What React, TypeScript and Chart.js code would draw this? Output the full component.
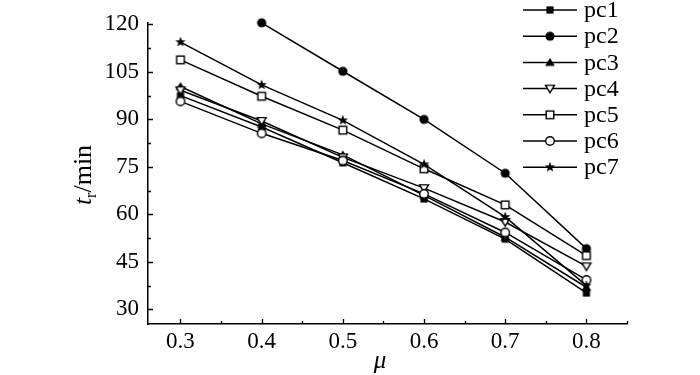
import React, { useEffect, useRef } from "react";
import { Chart, registerables } from "chart.js";
Chart.register(...registerables);

const muValues = [0.3, 0.4, 0.5, 0.6, 0.7, 0.8];
const seriesNames = ["pc1", "pc2", "pc3", "pc4", "pc5", "pc6", "pc7"];
const pc1 = [97.5, 87.6, 76.3, 64.9, 52.2, 35.2];
const pc2 = [null, 120.5, 105.2, 90, 73, 49.2];
const pc3 = [100.4, 88.6, 78.8, 66.0, 52.8, 37.0];
const pc4 = [99.2, 89.5, 78.0, 68.3, 57.6, 43.6];
const pc5 = [108.8, 97.3, 86.6, 74.4, 63.0, 47.0];
const pc6 = [95.7, 85.6, 77.0, 66.5, 54.3, 39.3];
const pc7 = [114.4, 100.9, 89.7, 75.8, 59.2, 37.5];
const yTickValues = [30, 45, 60, 75, 90, 105, 120];
const yMinorTicks = [37.5, 52.5, 67.5, 82.5, 97.5, 112.5];
const xTickValues = [0.3, 0.4, 0.5, 0.6, 0.7, 0.8];
const xMinorTicks = [0.35, 0.45, 0.55, 0.65, 0.75, 0.85];
const markerKinds = ["fsquare", "fcircle", "ftri", "odtri", "osquare", "ocircle", "fstar"];

const FONT = "'Liberation Serif', 'Times New Roman', serif";

function makeMarker(kind: string): HTMLCanvasElement {
  const s = 16;
  const c = document.createElement("canvas");
  c.width = s;
  c.height = s;
  const g = c.getContext("2d")!;
  const m = s / 2;
  g.fillStyle = "#000";
  g.strokeStyle = "#000";
  g.lineWidth = 1.4;
  switch (kind) {
    case "fsquare":
      g.fillRect(m - 3.6, m - 3.6, 7.2, 7.2);
      break;
    case "fcircle":
      g.beginPath();
      g.arc(m, m, 4.6, 0, Math.PI * 2);
      g.fill();
      break;
    case "ftri":
      g.beginPath();
      g.moveTo(m, m - 4.6);
      g.lineTo(m + 4.8, m + 3.6);
      g.lineTo(m - 4.8, m + 3.6);
      g.closePath();
      g.fill();
      break;
    case "odtri":
      g.beginPath();
      g.moveTo(m, m + 4.2);
      g.lineTo(m + 4.5, m - 3.4);
      g.lineTo(m - 4.5, m - 3.4);
      g.closePath();
      g.fillStyle = "#fff";
      g.fill();
      g.stroke();
      break;
    case "osquare":
      g.fillStyle = "#fff";
      g.fillRect(m - 3.8, m - 3.8, 7.6, 7.6);
      g.strokeRect(m - 3.8, m - 3.8, 7.6, 7.6);
      break;
    case "ocircle":
      g.beginPath();
      g.arc(m, m, 4.3, 0, Math.PI * 2);
      g.fillStyle = "#fff";
      g.fill();
      g.stroke();
      break;
    case "fstar": {
      g.beginPath();
      for (let k = 0; k < 10; k++) {
        const r = k % 2 === 0 ? 5.4 : 2.3;
        const a = -Math.PI / 2 + (k * Math.PI) / 5;
        const px = m + r * Math.cos(a);
        const py = m + r * Math.sin(a);
        if (k === 0) g.moveTo(px, py);
        else g.lineTo(px, py);
      }
      g.closePath();
      g.fill();
      break;
    }
  }
  return c;
}

export default function App() {
  const ref = useRef<HTMLCanvasElement>(null);
  useEffect(() => {
    if (!ref.current) return;
    const allSeries = [pc1, pc2, pc3, pc4, pc5, pc6, pc7];
    const markers = markerKinds.map(makeMarker);
    const datasets = allSeries.map((arr, i) => ({
      label: seriesNames[i],
      data: muValues
        .map((x, j) => ({ x, y: arr[j] as number | null }))
        .filter((p) => p.y !== null),
      borderColor: "#000",
      borderWidth: 1.5,
      pointStyle: markers[i] as any,
      pointRadius: 5,
      tension: 0,
      clip: false as any,
      order: 7 - i,
    }));

    const decor = {
      id: "decor",
      afterDraw(chart: any) {
        const ctx = chart.ctx as CanvasRenderingContext2D;
        const xs = chart.scales.x;
        const ys = chart.scales.y;
        const ca = chart.chartArea;
        ctx.save();
        ctx.strokeStyle = "#000";
        ctx.lineWidth = 1.3;
        ctx.beginPath();
        yTickValues.forEach((v) => {
          const y = Math.round(ys.getPixelForValue(v)) + 0.5;
          ctx.moveTo(ca.left, y);
          ctx.lineTo(ca.left + 5, y);
        });
        yMinorTicks.forEach((v) => {
          const y = Math.round(ys.getPixelForValue(v)) + 0.5;
          ctx.moveTo(ca.left, y);
          ctx.lineTo(ca.left + 3, y);
        });
        xTickValues.forEach((v) => {
          const x = Math.round(xs.getPixelForValue(v)) + 0.5;
          ctx.moveTo(x, ca.bottom);
          ctx.lineTo(x, ca.bottom - 5);
        });
        xMinorTicks.forEach((v) => {
          const x = Math.round(xs.getPixelForValue(v)) + 0.5;
          ctx.moveTo(x, ca.bottom);
          ctx.lineTo(x, ca.bottom - 3);
        });
        ctx.stroke();

        // legend
        ctx.fillStyle = "#000";
        ctx.font = `24px ${FONT}`;
        ctx.textBaseline = "middle";
        ctx.textAlign = "left";
        seriesNames.forEach((name, i) => {
          const y = 10 + i * 26.2;
          ctx.beginPath();
          ctx.lineWidth = 1.5;
          ctx.moveTo(523, y);
          ctx.lineTo(577, y);
          ctx.stroke();
          ctx.drawImage(markers[i], 550 - 8, y - 8);
          ctx.fillText(name, 584, y + 1);
        });

        // y title
        ctx.save();
        ctx.translate(91, 175);
        ctx.rotate(-Math.PI / 2);
        ctx.textBaseline = "alphabetic";
        ctx.font = `italic 26px ${FONT}`;
        const tW = ctx.measureText("t").width;
        ctx.font = `16px ${FONT}`;
        const rW = ctx.measureText("r").width;
        ctx.font = `26px ${FONT}`;
        const restW = ctx.measureText("/min").width;
        const total = tW + rW + restW;
        let cx = -total / 2;
        ctx.font = `italic 26px ${FONT}`;
        ctx.fillText("t", cx, 0);
        cx += tW;
        ctx.font = `16px ${FONT}`;
        ctx.fillText("r", cx, 5);
        cx += rW;
        ctx.font = `26px ${FONT}`;
        ctx.fillText("/min", cx, 0);
        ctx.restore();

        // x title
        ctx.font = `italic 25px ${FONT}`;
        ctx.textAlign = "center";
        ctx.textBaseline = "alphabetic";
        ctx.fillText("μ", 380, 368);
        ctx.restore();
      },
    };

    const chart = new Chart(ref.current, {
      type: "line",
      data: { datasets: datasets as any },
      options: {
        animation: false,
        responsive: false,
        maintainAspectRatio: false,
        layout: { padding: { left: 0, top: 18, right: 73, bottom: 0 } },
        plugins: { legend: { display: false }, tooltip: { enabled: false } },
        scales: {
          x: {
            type: "linear",
            min: 0.26,
            max: 0.85,
            afterBuildTicks: (s: any) => {
              s.ticks = xTickValues.map((v) => ({ value: v }));
            },
            afterFit: (s: any) => {
              s.height = 51;
            },
            ticks: {
              color: "#000",
              font: { family: FONT, size: 23 },
              padding: 4,
              maxRotation: 0,
              autoSkip: false,
              callback: (v: any) => Number(v).toFixed(1),
            },
            grid: { display: false, drawTicks: false },
            border: { display: true, color: "#000", width: 1.5 },
          },
          y: {
            type: "linear",
            min: 25.4,
            max: 120.5,
            afterBuildTicks: (s: any) => {
              s.ticks = yTickValues.map((v) => ({ value: v }));
            },
            afterFit: (s: any) => {
              s.width = 148;
            },
            ticks: {
              color: "#000",
              font: { family: FONT, size: 23 },
              padding: 9,
              autoSkip: false,
              callback: (v: any) => String(v),
            },
            grid: { display: false, drawTicks: false },
            border: { display: true, color: "#000", width: 1.5 },
          },
        },
      },
      plugins: [decor],
    });
    return () => chart.destroy();
  }, []);
  return (
    <div style={{ position: "fixed", left: 0, top: 0, width: 700, height: 375, background: "#fff" }}>
      <canvas ref={ref} width={700} height={375} style={{ width: 700, height: 375 }} />
    </div>
  );
}
